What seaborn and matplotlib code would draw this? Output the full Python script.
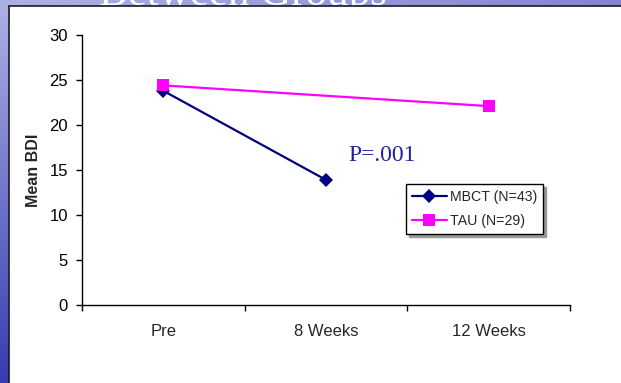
import numpy as np
import pandas as pd
import matplotlib
matplotlib.use('Agg')
import matplotlib.pyplot as plt
import seaborn as sns
from matplotlib.patches import Rectangle

# Valores (Mean BDI)
categories = ['Pre', '8 Weeks', '12 Weeks']
groups = ['MBCT (N=43)', 'TAU (N=29)']
mbct_values = [23.8, 13.9, None]
tau_values = [24.4, None, 22.1]
colors = ['#000080', '#FF00FF']

rows = []
for name, vals in zip(groups, [mbct_values, tau_values]):
    for i, (cat, v) in enumerate(zip(categories, vals)):
        if v is not None:
            rows.append({'pos': i, 'time': cat, 'group': name, 'bdi': v})
df = pd.DataFrame(rows)

sns.set_style('white')
plt.rcParams['font.family'] = ['Liberation Sans', 'DejaVu Sans']

fig = plt.figure(figsize=(6.21, 3.83), dpi=100)

# fundo azul do slide
bg = fig.add_axes([0, 0, 1, 1], zorder=0)
xx = np.linspace(0, 1, 621)[None, :, None]
yy = np.linspace(0, 1, 383)[:, None, None]
light = np.array([0.68, 0.70, 0.90])
dark = np.array([0.16, 0.18, 0.66])
purple = np.array([0.40, 0.40, 0.76])
img = light * (1 - yy * 0.9) + dark * (yy * 0.9)
img = img * (1 - xx * 0.6) + purple * (xx * 0.6)
bg.imshow(img, aspect='auto', extent=[0, 1, 0, 1])
bg.axis('off')

fig.text(99 / 621, 1 - 5 / 383, 'Between Groups', family='Liberation Serif',
         color='white', fontsize=31, va='baseline', ha='left', zorder=1)

fig.add_artist(Rectangle((9 / 621, -0.01), 1.0, 1.01 - 6 / 383,
                         transform=fig.transFigure, facecolor='white',
                         edgecolor='#1a1a2a', lw=1.2, zorder=2))

ax = fig.add_axes([82 / 621, 1 - 305 / 383, 488 / 621, 270 / 383], zorder=3)
ax.patch.set_alpha(0)

sns.lineplot(data=df, x='pos', y='bdi', hue='group', style='group',
             markers=['D', 's'], dashes=False, palette=colors,
             linewidth=1.6, markersize=8, markeredgewidth=0, ax=ax)
for ln in ax.lines:
    if ln.get_marker() == 'D':
        ln.set_markersize(7.5)
    elif ln.get_marker() == 's':
        ln.set_markersize(8.5)

ax.set_xlim(-0.5, 2.5)
ax.set_ylim(0, 30)
ax.set_yticks(range(0, 31, 5))
ax.set_xticks([-0.5, 0.5, 1.5, 2.5])
ax.set_xticklabels([])
ax.set_xticks(range(len(categories)), minor=True)
ax.set_xticklabels(categories, minor=True)
ax.tick_params(axis='x', which='major', direction='out', length=4, width=1, colors='black')
ax.tick_params(axis='x', which='minor', length=0, pad=14, labelsize=12)
ax.tick_params(axis='y', direction='out', length=4.5, width=1, pad=5.5, labelsize=12, colors='black')
ax.tick_params(left=True, bottom=True)

for s in ['top', 'right']:
    ax.spines[s].set_visible(False)
for s in ['left', 'bottom']:
    ax.spines[s].set_color('black')
    ax.spines[s].set_linewidth(1)

ax.set_xlabel('')
ax.set_ylabel('Mean BDI', fontsize=11.5, fontweight='bold')
ax.yaxis.set_label_coords(-0.084, 0.5)

ax.text(0.545, 0.533, 'P=.001', transform=ax.transAxes, family='Liberation Serif',
        fontsize=17, color='#20209a', va='baseline', ha='left')

handles, labels = ax.get_legend_handles_labels()
ax.legend(handles, labels, loc='upper left', bbox_to_anchor=(0.664, 0.448),
          borderaxespad=0, frameon=True, fancybox=False, edgecolor='black',
          framealpha=1, shadow={'color': '#999999', 'alpha': 1},
          fontsize=10.2, handlelength=2.5, handletextpad=0.2,
          labelspacing=0.75, borderpad=0.4)
ax.get_legend().get_frame().set_linewidth(1)

plt.savefig('out.png', dpi=100)
